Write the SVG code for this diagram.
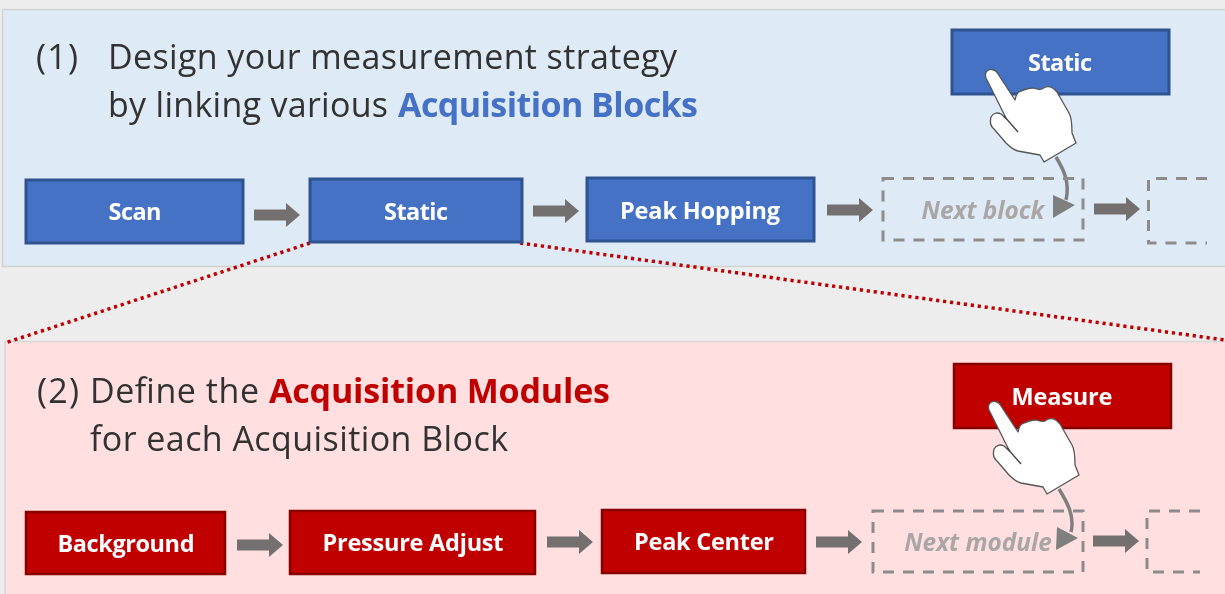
<svg xmlns="http://www.w3.org/2000/svg" width="1225" height="594" viewBox="0 0 1225 594">
<style>
text{font-family:"Open Sans","Noto Sans","Liberation Sans",sans-serif}
.h{font-size:34px;fill:#333333}
.hb{font-size:34px;font-weight:700}
.bl{fill:#4472c4;stroke:#2f528f;stroke-width:3}
.rd{fill:#c00000;stroke:#860000;stroke-width:2.500}
.lbl{font-size:23.500px;font-weight:700;fill:#fff;text-anchor:middle}
.dash{fill:none;stroke:#8c8c8c;stroke-width:3;stroke-dasharray:11 9}
.next{font-size:24.400px;font-weight:700;font-style:italic;fill:#aaa6a6;text-anchor:middle}
.dot{fill:none;stroke:#c00000;stroke-width:3.500;stroke-dasharray:3.200 3.800}
.curve{fill:none;stroke:#7f7f7f;stroke-width:3.500}
.head{fill:#7f7f7f}
.hand{fill:#fff;stroke:#555;stroke-width:1.300;stroke-linejoin:round}
.crease{fill:none;stroke:#444;stroke-width:1.300}
</style>
<defs>
<filter id="soft" x="-2%" y="-2%" width="104%" height="104%"><feGaussianBlur stdDeviation="0.7"/></filter>
<path id="arr" fill="#757070" d="M0 -5.500H32V-12L46 0L32 12V5.500H0Z"/>
<g id="hand">
<path class="hand" d="M986 78C984 72 988 69 992 69.500C995 70 997 72 998 74L1015 100C1016 95 1017 93 1019 92C1023 90 1028 88 1033 88C1036 89 1039 90 1042 89C1047 85 1052 86 1057 92L1069 113C1072 118 1072 125 1072 133L1076 143L1044 162L1040 155L1018 151C1014 150 1010 147 1006 143L994 129C990 126 990 121 991 117C993 113 997 112 1001 114L1006.500 119Z"/>
<path class="crease" d="M1004 116L1018 132"/>
</g>
</defs>
<rect width="1225" height="594" fill="#ededed"/>
<g filter="url(#soft)">
<g id="panel-1"><rect x="2.500" y="9.500" width="1224" height="257" fill="#deeaf6" stroke="#d2d2d2" stroke-width="1.500"/></g>
<g id="panel-2"><rect x="5" y="341.500" width="1222" height="254" fill="#ffdfdf" stroke="#d8d8d8" stroke-width="1.500"/></g>
<g id="title-1">
<text class="h" x="36" y="69" textLength="42">(1)</text>
<text class="h" x="108" y="69" textLength="569">Design your measurement strategy</text>
<text class="h" x="108" y="117" textLength="280">by linking various</text>
<text class="hb" x="398" y="117" textLength="300" fill="#4472c4">Acquisition Blocks</text>
</g>
<g id="title-2">
<text class="h" x="37" y="403" textLength="42">(2)</text>
<text class="h" x="90" y="403" textLength="169">Define the</text>
<text class="hb" x="269" y="403" textLength="341" fill="#c00000">Acquisition Modules</text>
<text class="h" x="90" y="451" textLength="418">for each Acquisition Block</text>
</g>
<g id="connectors">
<path class="dot" d="M310 243L5 343"/>
<path class="dot" d="M520 243L1225 340"/>
<use href="#arr" x="254" y="215"/>
<use href="#arr" x="533" y="211"/>
<use href="#arr" x="827" y="210"/>
<use href="#arr" x="1094" y="209"/>
<use href="#arr" x="237" y="545"/>
<use href="#arr" x="547" y="542"/>
<use href="#arr" x="816" y="542"/>
<use href="#arr" x="1093" y="541"/>
<path class="curve" d="M1056 157C1064 170 1070 183 1066 200"/>
<path class="head" d="M1053 195L1075 205L1053 218Z"/>
<path class="curve" d="M1059 489C1067 502 1075 516 1071 532"/>
<path class="head" d="M1057 527L1078 538L1056 550Z"/>
</g>
<g id="node-static-palette"><rect class="bl" x="952" y="30" width="217" height="64"/><text class="lbl" x="1060" y="71" textLength="64">Static</text></g>
<g id="node-scan"><rect class="bl" x="26" y="180" width="217" height="63"/><text class="lbl" x="135" y="220" textLength="53">Scan</text></g>
<g id="node-static"><rect class="bl" x="310" y="179" width="212" height="63"/><text class="lbl" x="416" y="220" textLength="64">Static</text></g>
<g id="node-peak-hopping"><rect class="bl" x="587" y="178" width="227" height="63"/><text class="lbl" x="700" y="219" textLength="160">Peak Hopping</text></g>
<g id="node-next-block"><rect class="dash" x="883" y="178.500" width="200" height="61.500"/><text class="next" x="983" y="219">Next block</text></g>
<g id="node-next-partial"><path class="dash" d="M1207 178.500H1148.500V243H1207"/></g>
<g id="node-measure"><rect class="rd" x="954" y="364" width="217" height="64"/><text class="lbl" x="1062" y="405" textLength="101">Measure</text></g>
<g id="node-background"><rect class="rd" x="26" y="512" width="199" height="62"/><text class="lbl" x="126" y="552" textLength="137">Background</text></g>
<g id="node-pressure-adjust"><rect class="rd" x="290" y="511" width="245" height="63"/><text class="lbl" x="413" y="551" textLength="181">Pressure Adjust</text></g>
<g id="node-peak-center"><rect class="rd" x="602" y="510" width="203" height="63"/><text class="lbl" x="704" y="550" textLength="140">Peak Center</text></g>
<g id="node-next-module"><rect class="dash" x="873" y="511" width="210" height="61"/><text class="next" x="978" y="551">Next module</text></g>
<g id="node-next-partial-2"><path class="dash" d="M1200 511H1147V572H1200"/></g>
<g id="hand-1"><use href="#hand"/></g>
<g id="hand-2"><use href="#hand" x="3" y="332"/></g>
</g>
</svg>
